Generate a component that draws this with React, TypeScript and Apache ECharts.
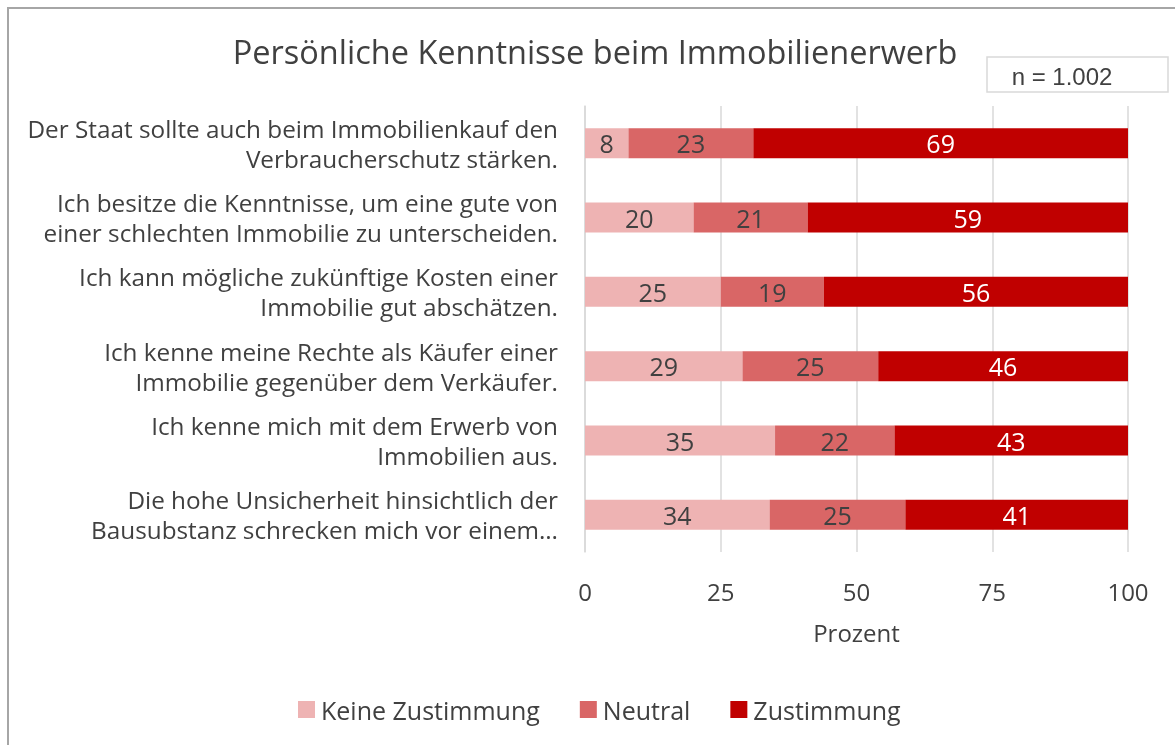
import React, { useEffect, useRef } from "react";
import * as echarts from "echarts";

const categories = [
  "Der Staat sollte auch beim Immobilienkauf den\nVerbraucherschutz stärken.",
  "Ich besitze die Kenntnisse, um eine gute von\neiner schlechten Immobilie zu unterscheiden.",
  "Ich kann mögliche zukünftige Kosten einer\nImmobilie gut abschätzen.",
  "Ich kenne meine Rechte als Käufer einer\nImmobilie gegenüber dem Verkäufer.",
  "Ich kenne mich mit dem Erwerb von\nImmobilien aus.",
  "Die hohe Unsicherheit hinsichtlich der\nBausubstanz schrecken mich vor einem…",
];
const keineZustimmung = [8, 20, 25, 29, 35, 34];
const neutral = [23, 21, 19, 25, 22, 25];
const zustimmung = [69, 59, 56, 46, 43, 41];
const xTicks = [0, 25, 50, 75, 100];

const FONT = "Open Sans";
const TXT = "#404040";

export default function App() {
  const ref = useRef<HTMLDivElement>(null);
  useEffect(() => {
    if (!ref.current) return;
    const chart = echarts.init(ref.current, null, { renderer: "svg" });
    const mk = (name: string, data: number[], color: string, labelColor: string) => ({
      name,
      type: "bar",
      stack: "total",
      data,
      barWidth: 30,
      itemStyle: { color },
      label: {
        show: true,
        position: "inside",
        color: labelColor,
        fontSize: 25,
        fontFamily: FONT,
      },
    });
    chart.setOption({
      animation: false,
      textStyle: { fontFamily: FONT },
      graphic: [
        {
          type: "rect",
          shape: { x: 8, y: 8, width: 1200, height: 800 },
          style: { fill: "#fff", stroke: "#a6a6a6", lineWidth: 2 },
          z: -10,
        },
        {
          type: "text",
          x: 595,
          y: 51,
          style: {
            text: "Persönliche Kenntnisse beim Immobilienerwerb",
            fontSize: 32.5,
            fontFamily: FONT,
            fill: TXT,
            align: "center",
            verticalAlign: "middle",
          },
        },
        {
          type: "rect",
          shape: { x: 987, y: 57, width: 181, height: 35 },
          style: { fill: "#fff", stroke: "#d9d9d9", lineWidth: 1.5 },
        },
        {
          type: "text",
          x: 1062,
          y: 76,
          style: {
            text: "n = 1.002",
            fontSize: 24,
            fontFamily: "Liberation Sans",
            fill: TXT,
            align: "center",
            verticalAlign: "middle",
          },
        },
      ],
      legend: {
        top: 692,
        left: 293,
        itemWidth: 17,
        itemHeight: 17,
        itemGap: 40,
        icon: "rect",
        textStyle: { fontSize: 25, color: TXT, fontFamily: FONT, padding: [0, 0, 0, 1] },
        data: ["Keine Zustimmung", "Neutral", "Zustimmung"],
      },
      grid: { left: 585, right: 47, top: 106, bottom: 193, containLabel: false },
      xAxis: {
        type: "value",
        min: 0,
        max: 100,
        interval: 25,
        name: "Prozent",
        nameLocation: "middle",
        nameGap: 68,
        nameTextStyle: { fontSize: 24, color: TXT, fontFamily: FONT },
        axisLabel: {
          fontSize: 24,
          color: TXT,
          margin: 27,
          fontFamily: FONT,
          formatter: (v: number) => (xTicks.includes(v) ? String(v) : ""),
        },
        axisLine: { show: false },
        axisTick: { show: false },
        splitLine: { show: true, lineStyle: { color: "#d9d9d9", width: 1.5 } },
      },
      yAxis: {
        type: "category",
        inverse: true,
        data: categories,
        axisLine: { show: true, lineStyle: { color: "#d9d9d9", width: 1.5 } },
        axisTick: { show: false },
        axisLabel: {
          fontSize: 24.3,
          lineHeight: 30,
          color: TXT,
          margin: 27,
          align: "right",
          fontFamily: FONT,
        },
      },
      series: [
        mk("Keine Zustimmung", keineZustimmung, "#eeb3b3", TXT),
        mk("Neutral", neutral, "#d96666", TXT),
        mk("Zustimmung", zustimmung, "#c00000", "#ffffff"),
      ],
    });
    return () => chart.dispose();
  }, []);
  return (
    <div
      ref={ref}
      style={{ position: "fixed", left: 0, top: 0, width: 1175, height: 745 }}
    />
  );
}
